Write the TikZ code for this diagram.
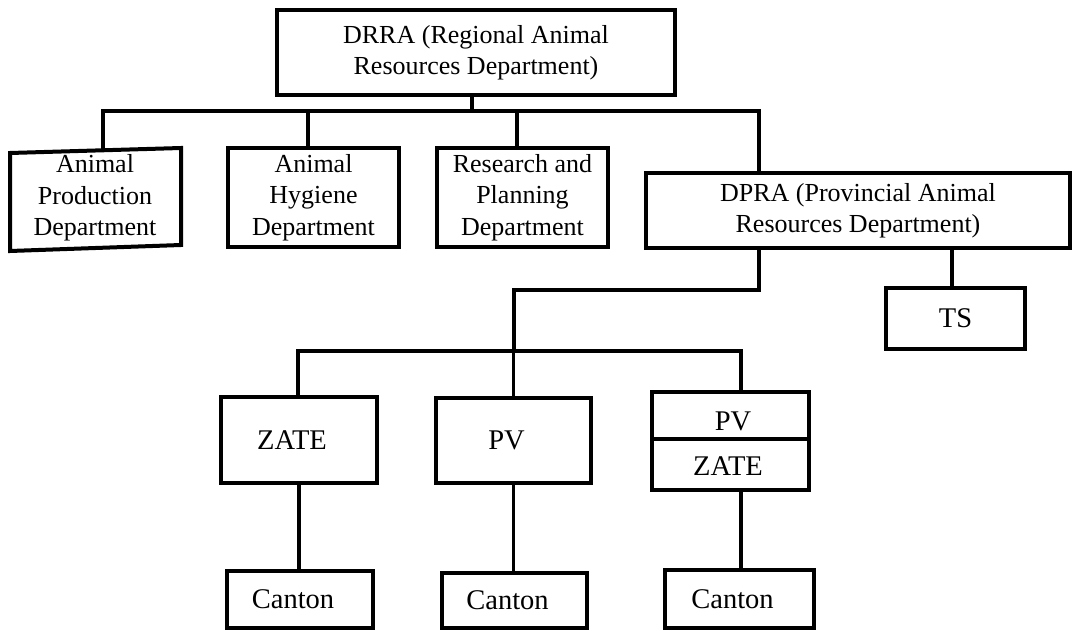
\documentclass[tikz,border=0pt]{standalone}
\usepackage{fontspec}
\setmainfont{Liberation Serif}
\begin{document}
\begin{tikzpicture}[x=1pt,y=-1pt,
  dept/.style={draw, line width=4pt, inner sep=0pt, align=center,
    font=\fontsize{26}{31.5}\selectfont},
  unit/.style={draw, line width=4pt, inner sep=0pt,
    font=\fontsize{28.5}{34}\selectfont},
  txt/.style={inner sep=0pt, align=center, font=\fontsize{26}{31.5}\selectfont},
  utxt/.style={inner sep=0pt, font=\fontsize{28.5}{34}\selectfont},
  link/.style={line width=3.8pt, line cap=rect}]
\useasboundingbox (0,0) rectangle (1074,631);

% regional level
\node[dept, minimum width=398pt, minimum height=85pt] (drra) at (476,52.5)
  {DRRA (Regional Animal\\Resources Department)};

% departments under the region
\node[txt] (ap) at (95,198) {Animal\\Production\\Department};
\draw[line width=4pt] (10,153) -- (181,148) -- (181,245) -- (10,251) -- cycle;
\node[dept, minimum width=171pt, minimum height=99pt] (ah) at (313.5,197.5)
  {Animal\\Hygiene\\Department};
\node[dept, minimum width=171pt, minimum height=99pt] (rp) at (522.5,197.5)
  {Research and\\Planning\\Department};
\node[dept, minimum width=424pt, minimum height=75pt] (dpra) at (858,210.5)
  {DPRA (Provincial Animal\\Resources Department)};

% provincial level
\node[unit, minimum width=139pt, minimum height=61pt] (ts) at (955.5,318.5) {TS};
\node[unit, minimum width=156pt, minimum height=86pt] (zate) at (299,440) {ZATE\kern14pt};
\node[unit, minimum width=155pt, minimum height=85pt] (pv) at (513.5,440.5) {PV\kern14pt};
\node[unit, minimum width=157pt, minimum height=98pt] (pvz) at (730.5,441) {};
\draw[line width=4pt] (pvz.west |- 0,439) -- (pvz.east |- 0,439);
\node[utxt] (pvzA) at (733,421) {PV};
\node[utxt] (pvzB) at (728,466) {ZATE};

% cantons
\node[unit, minimum width=146pt, minimum height=57pt] (c1) at (300,599.5) {Canton\kern14pt};
\node[unit, minimum width=145pt, minimum height=55pt] (c2) at (514.5,600.5) {Canton\kern14pt};
\node[unit, minimum width=149pt, minimum height=58pt] (c3) at (739.5,599) {Canton\kern14pt};

% connectors from the region
\coordinate (busA) at (103,111);
\coordinate (busB) at (759,111);
\coordinate (apTop) at (103,150.3);
\draw[link] ([xshift=-4pt]drra.south) -- ([xshift=-4pt]drra.south |- busA);
\draw[link] (busA) -- (busB);
\draw[link] (busA) -- (apTop);
\draw[link] ([xshift=-5.5pt]ah.north |- busA) -- ([xshift=-5.5pt]ah.north);
\draw[link] ([xshift=-5.5pt]rp.north |- busA) -- ([xshift=-5.5pt]rp.north);
\draw[link] (busB) -- (busB |- dpra.north);

% connectors from the province
\coordinate (j1) at (759,290);
\coordinate (j2) at (514,290);
\coordinate (busC) at (298,351);
\coordinate (busD) at (741,351);
\draw[link] (dpra.south -| j1) -- (j1) -- (j2) -- (j2 |- busC);
\draw[link] (busC) -- (busD);
\draw[link] ([xshift=-3.5pt]ts.north |- dpra.south) -- ([xshift=-3.5pt]ts.north);
\draw[link] (busC) -- (busC |- zate.north);
\draw[link] (pv.north |- busC) -- (pv.north);
\draw[link] (busD) -- (busD |- pvz.north);

% connectors to the cantons
\draw[link] (zate.south) -- (zate.south |- c1.north);
\draw[link] (pv.south) -- (pv.south |- c2.north);
\draw[link] (busD |- pvz.south) -- (busD |- c3.north);
\end{tikzpicture}
\end{document}
